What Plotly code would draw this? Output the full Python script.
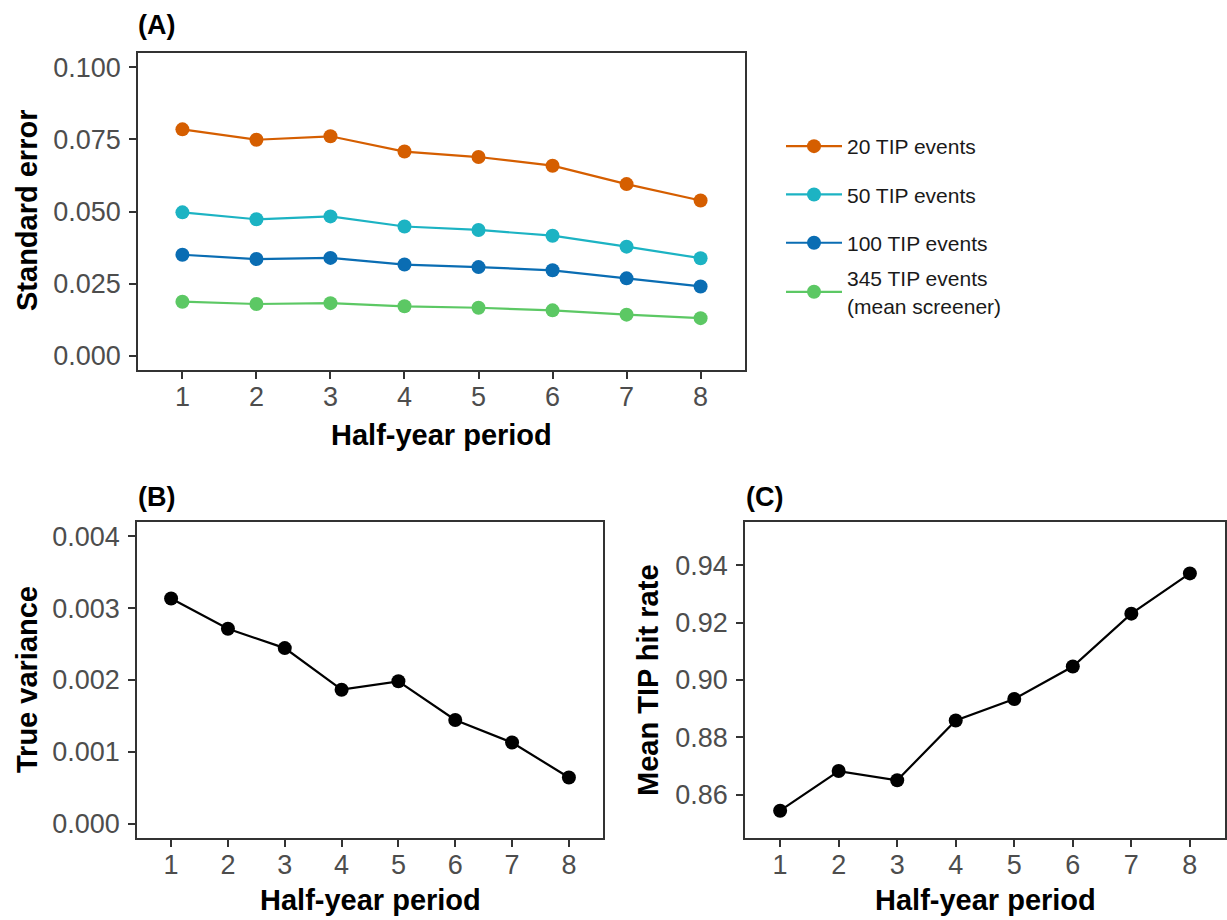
import plotly.graph_objects as go

periods = [1, 2, 3, 4, 5, 6, 7, 8]

se_names = ["20 TIP events", "50 TIP events", "100 TIP events", "345 TIP events<br>(mean screener)"]
se_20 = [0.0785, 0.0749, 0.0761, 0.0708, 0.0689, 0.0659, 0.0595, 0.0538]
se_50 = [0.0497, 0.0473, 0.0483, 0.0448, 0.0436, 0.0416, 0.0378, 0.0338]
se_100 = [0.0350, 0.0335, 0.0339, 0.0316, 0.0307, 0.0296, 0.0268, 0.0240]
se_345 = [0.0187, 0.0179, 0.0182, 0.0171, 0.0166, 0.0157, 0.0142, 0.0130]
se_colors = ["#D55E00", "#1CB3C3", "#0A6DB3", "#5CC864"]

true_variance = [0.003135, 0.002713, 0.002444, 0.001865, 0.001982, 0.001444, 0.001129, 0.000643]
hit_rate = [0.8545, 0.8683, 0.8651, 0.8859, 0.8934, 0.9047, 0.9231, 0.9371]

W, H = 1227, 920
FONT = "Liberation Sans, Arial, sans-serif"
TICK_COLOR = "#4D4D4D"
LINE_COLOR = "#333333"

def px_x(x):
    return x / W

def px_y(y):
    return 1 - y / H

fig = go.Figure()

legend_ids = ["legend", "legend", "legend", "legend2"]
for name, vals, col, lg in zip(se_names, [se_20, se_50, se_100, se_345], se_colors, legend_ids):
    fig.add_trace(go.Scatter(
        x=periods, y=vals, mode="lines+markers", name=name,
        line=dict(color=col, width=2.2), marker=dict(color=col, size=14),
        xaxis="x", yaxis="y", legendgroup=name, legend=lg, showlegend=True))

fig.add_trace(go.Scatter(
    x=periods, y=true_variance, mode="lines+markers", showlegend=False,
    line=dict(color="black", width=2.2), marker=dict(color="black", size=14),
    xaxis="x2", yaxis="y2"))

fig.add_trace(go.Scatter(
    x=periods, y=hit_rate, mode="lines+markers", showlegend=False,
    line=dict(color="black", width=2.2), marker=dict(color="black", size=14),
    xaxis="x3", yaxis="y3"))

common = dict(showline=True, mirror=True, linecolor=LINE_COLOR, linewidth=1.5,
              showgrid=False, zeroline=False, ticks="outside", ticklen=7,
              tickwidth=1.5, tickcolor=LINE_COLOR,
              tickfont=dict(family=FONT, size=27, color=TICK_COLOR))

xcommon = dict(common, range=[0.4, 8.6], tickvals=periods, ticklabelstandoff=-5)

leg_font = dict(family=FONT, size=21, color="#1A1A1A")

fig.update_layout(
    width=W, height=H,
    margin=dict(l=0, r=0, t=0, b=0),
    paper_bgcolor="white", plot_bgcolor="white",
    font=dict(family=FONT, color="black"),
    xaxis=dict(xcommon, domain=[px_x(138), px_x(745)], anchor="y"),
    yaxis=dict(common, domain=[px_y(370), px_y(53)], anchor="x",
               range=[-0.005, 0.105], tickvals=[0, 0.025, 0.05, 0.075, 0.1],
               tickformat=".3f", ticklabelstandoff=3),
    xaxis2=dict(xcommon, domain=[px_x(137), px_x(603)], anchor="y2"),
    yaxis2=dict(common, domain=[px_y(838), px_y(522)], anchor="x2",
                range=[-0.0002, 0.0042], tickvals=[0, 0.001, 0.002, 0.003, 0.004],
                tickformat=".3f", ticklabelstandoff=3),
    xaxis3=dict(xcommon, domain=[px_x(745), px_x(1225)], anchor="y3"),
    yaxis3=dict(common, domain=[px_y(838), px_y(522)], anchor="x3",
                range=[0.845, 0.955], tickvals=[0.86, 0.88, 0.90, 0.92, 0.94],
                tickformat=".2f", ticklabelstandoff=3),
    legend=dict(x=px_x(781), y=px_y(126), xanchor="left", yanchor="top",
                font=leg_font, tracegroupgap=18, bgcolor="rgba(0,0,0,0)", itemwidth=56),
    legend2=dict(x=px_x(781), y=px_y(292), xanchor="left", yanchor="middle",
                 font=leg_font, bgcolor="rgba(0,0,0,0)", itemwidth=56),
)

ann = []
def title(text, x, y, angle=0, size=29, anchor="center"):
    ann.append(dict(text="<b>%s</b>" % text, x=px_x(x), y=px_y(y), xref="paper", yref="paper",
                    showarrow=False, textangle=angle, xanchor=anchor, yanchor="middle",
                    font=dict(family=FONT, size=size, color="black")))

title("(A)", 136, 25, anchor="left", size=27)
title("(B)", 136, 497, anchor="left", size=27)
title("(C)", 744, 497, anchor="left", size=27)
title("Half-year period", 441, 435)
title("Half-year period", 370, 900)
title("Half-year period", 985, 900)
title("Standard error", 27, 211, angle=-90)
title("True variance", 27, 680, angle=-90)
title("Mean TIP hit rate", 648, 680, angle=-90)
fig.update_layout(annotations=ann)

fig.write_html("out.html")
